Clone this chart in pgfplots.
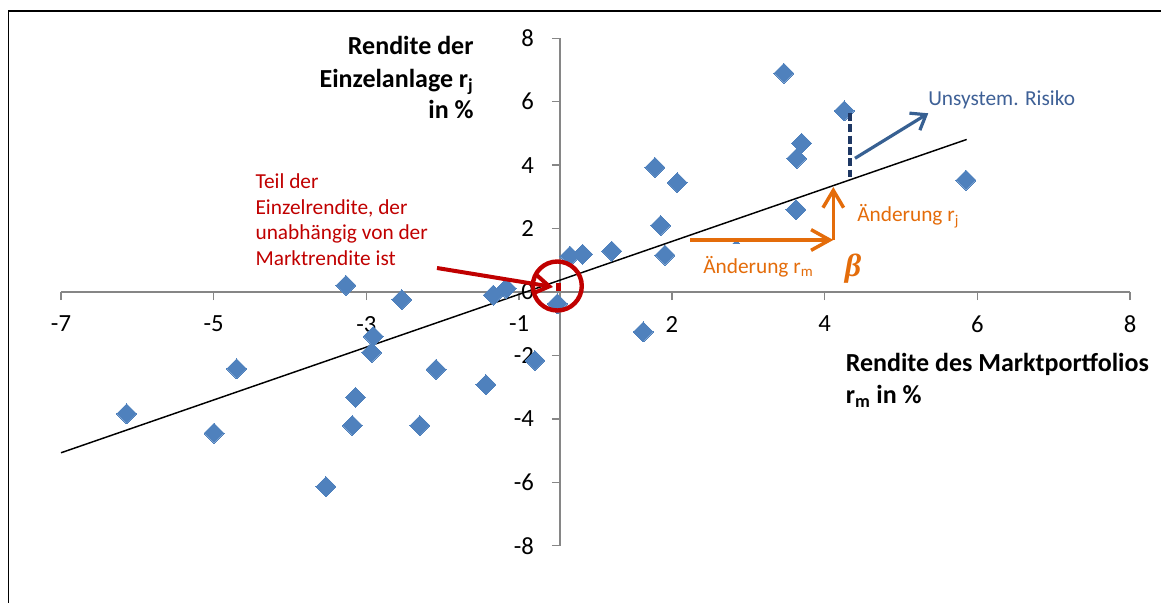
\documentclass[border=0pt]{standalone}
\usepackage{pgfplots}
\pgfplotsset{compat=1.18}
\usepackage{fontspec}
\setmainfont{Carlito}
\newfontfamily\betafont{Liberation Serif}
\usetikzlibrary{arrows.meta}
\definecolor{markblue}{RGB}{79,129,189}
\definecolor{axisgray}{RGB}{134,134,134}
\definecolor{xred}{RGB}{192,0,0}
\definecolor{xorange}{RGB}{228,108,10}
\definecolor{xnavy}{RGB}{31,56,100}
\definecolor{xblue}{RGB}{55,96,146}
\definecolor{xbluetext}{RGB}{62,96,150}
\begin{document}
\begin{tikzpicture}
\useasboundingbox (-45.75pt,-42.975pt) rectangle (825pt,409.275pt);
\begin{axis}[
  at={(0pt,0pt)}, anchor=south west,
  scale only axis, width=801.75pt, height=380.55pt,
  xmin=-7, xmax=8, ymin=-8, ymax=8,
  axis lines=middle,
  axis line style={-, draw=axisgray, line width=1.1pt},
  xtick={-7,-4.857142857,-2.714285714,-0.571428571,1.571428571,3.714285714,5.857142857,8},
  xticklabels={-7,-5,-3,-1,2,4,6,8},
  ytick={-8,-6,-4,-2,0,2,4,6,8},
  yticklabels={-8,-6,-4,-2,0,2,4,6,8},
  hide obscured x ticks=false, hide obscured y ticks=false,
  tick align=outside,
  major tick length=6pt,
  tick style={draw=axisgray, line width=1.1pt},
  ticklabel style={font=\fontsize{18.5pt}{22pt}\selectfont, text=black},
  xticklabel style={yshift=-8.5pt},
  yticklabel style={xshift=-10pt},
  clip=false,
]
\addplot[only marks, mark=square*, mark size=5.3pt,
  mark options={rotate=45, fill=markblue, draw=markblue, line width=0pt}] coordinates {
(-6.078,-3.84) (-4.535,-2.42) (-4.853,-4.45) (-3.282,-6.14) (-3.002,0.21)
(-2.868,-3.32) (-2.91,-4.21) (-2.22,-0.24) (-2.618,-1.40) (-2.641,-1.91)
(-1.738,-2.44) (-1.963,-4.21) (-1.037,-2.92) (-0.934,-0.10) (-0.752,0.11)
(-0.349,-2.16) (-0.036,-0.37) (0.142,1.13) (0.32,1.19) (0.727,1.29)
(1.17,-1.26) (1.334,3.93) (1.647,3.45) (1.414,2.10) (1.475,1.16)
(3.144,6.90) (3.99,5.71) (3.393,4.69) (3.323,4.21) (3.313,2.60)
(5.698,3.53) (2.475,1.32)
};
\addplot[black, line width=1.1pt, no marks] coordinates {(-7,-5.07) (5.708,4.81)};
\end{axis}
\begin{scope}[shift={(-45.75pt,409.275pt)}, x=0.75pt, y=-0.75pt]
  % frame
  \draw[black, line width=1pt] (8.4,603) -- (8.4,11) -- (1161,11);
  % axis titles
  \begin{scope}[every node/.style={inner sep=0pt, font=\bfseries\fontsize{19.5pt}{23pt}\selectfont}]
    \node[anchor=base east] at (473.8,54.3) {Rendite der};
    \node[anchor=base east] at (473.8,87.3) {Einzelanlage r\textsubscript{j}};
    \node[anchor=base east] at (473.8,119) {in \%};
    \node[anchor=base west] at (845.5,371.7) {Rendite des Marktportfolios};
    \node[anchor=base west] at (845.5,403.3) {r\textsubscript{m} in \%};
  \end{scope}
  % red annotation
  \begin{scope}[every node/.style={inner sep=0pt, text=xred, font=\fontsize{16pt}{19pt}\selectfont, anchor=base west}]
    \node at (255.3,188.3) {Teil der};
    \node at (255.3,214.3) {Einzelrendite, der};
    \node at (255.3,240) {unabhängig von der};
    \node at (255.3,265.7) {Marktrendite ist};
  \end{scope}
  \draw[xred, line width=3pt, -{Straight Barb[length=11pt,width=14pt]}] (437,268) -- (553,287);
  \fill[xred] (556,283.3) rectangle (561.3,290.7);
  \draw[xred, line width=3.3pt] (557.3,286) circle[radius=24.5];
  % orange beta construction
  \fill[white] (700,244) rectangle (815,286);
  \draw[xorange, line width=2.6pt, -{Straight Barb[length=14pt,width=15.5pt]}] (690,240) -- (833.3,240);
  \draw[xorange, line width=2.6pt, -{Straight Barb[length=13pt,width=15.5pt]}] (833.3,240) -- (833.3,187);
  \begin{scope}[every node/.style={inner sep=0pt, text=xorange, font=\fontsize{16pt}{19pt}\selectfont, anchor=base west}]
    \node at (857,221.7) {Änderung r\textsubscript{j}};
    \node at (703,273.3) {Änderung r\textsubscript{m}};
  \end{scope}
  \node[inner sep=0pt, text=xorange, font=\betafont\bfseries\itshape\fontsize{24pt}{28pt}\selectfont] at (853,268.5) {β};
  % unsystematic risk
  \draw[xnavy, line width=2.3pt, dash pattern=on 6pt off 2.5pt] (850,113) -- (850,177);
  \draw[xblue, line width=2.4pt, -{Straight Barb[length=10pt,width=15pt]}] (855,158.3) -- (928.3,113.3);
  \node[inner sep=0pt, anchor=base west, text=xbluetext, font=\fontsize{16pt}{19pt}\selectfont] at (928,106) {Unsystem. Risiko};
\end{scope}
\end{tikzpicture}
\end{document}
